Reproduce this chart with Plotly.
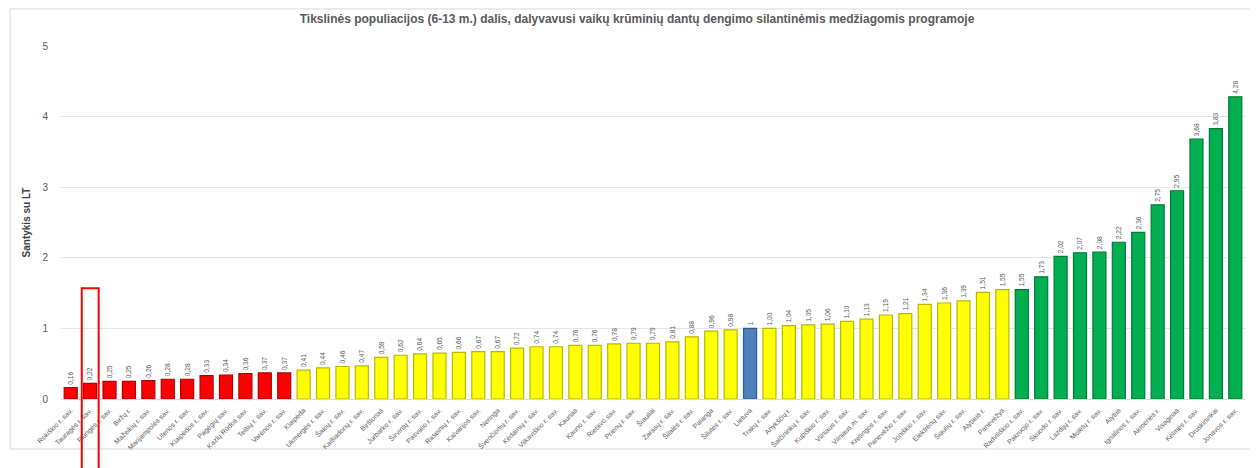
import plotly.graph_objects as go

categories = [
    "Rokiškio r. sav.", "Tauragės r. sav.", "Plungės r. sav.", "Biržų r.", "Mažeikių r. sav.",
    "Marijampolės sav.", "Utenos r. sav.", "Klaipėdos r. sav.", "Pagėgių sav.", "Kazlų Rūdos sav.",
    "Telšių r. sav.", "Varėnos r. sav.", "Klaipėda", "Ukmergės r. sav.", "Šakių r. sav.",
    "Kaišiadorių r. sav.", "Birštonas", "Jurbarko r. sav.", "Širvintų r. sav.", "Pasvalio r. sav.",
    "Raseinių r. sav.", "Kalvarijos sav.", "Neringa", "Švenčionių r. sav.", "Kėdainių r. sav.",
    "Vilkaviškio r. sav.", "Kaunas", "Kauno r. sav.", "Rietavo sav.", "Prienų r. sav.",
    "Šiauliai", "Zarasų r. sav.", "Šilalės r. sav.", "Palanga", "Šilutės r. sav.",
    "Lietuva", "Trakų r. sav.", "Anykščių r.", "Šalčininkų r. sav.", "Kupiškio r. sav.",
    "Vilniaus r. sav.", "Vilniaus m. sav.", "Kretingos r. sav.", "Panevėžio r. sav.", "Joniškio r. sav.",
    "Elektrėnų sav.", "Šiaulių r. sav.", "Alytaus r.", "Panevėžys", "Radviliškio r. sav.",
    "Pakruojo r. sav.", "Skuodo r. sav.", "Lazdijų r. sav.", "Molėtų r. sav.", "Alytus",
    "Ignalinos r. sav.", "Akmenės r.", "Visaginas", "Kelmės r. sav.", "Druskininkai",
    "Jonavos r. sav.",
]

values = [
    0.16, 0.22, 0.25, 0.25, 0.26,
    0.28, 0.28, 0.33, 0.34, 0.36,
    0.37, 0.37, 0.41, 0.44, 0.46,
    0.47, 0.59, 0.62, 0.64, 0.65,
    0.66, 0.67, 0.67, 0.72, 0.74,
    0.74, 0.76, 0.76, 0.78, 0.79,
    0.79, 0.81, 0.88, 0.96, 0.98,
    1.00, 1.00, 1.04, 1.05, 1.06,
    1.10, 1.13, 1.19, 1.21, 1.34,
    1.36, 1.39, 1.51, 1.55, 1.55,
    1.73, 2.02, 2.07, 2.08, 2.22,
    2.36, 2.75, 2.95, 3.68, 3.83,
    4.28,
]

groups = (["red"] * 12 + ["yellow"] * 23 + ["blue"] + ["yellow"] * 13 + ["green"] * 12)

value_labels = ["1" if c == "Lietuva" else f"{v:.2f}".replace(".", ",") for c, v in zip(categories, values)]

fill = {"red": "#FF0000", "yellow": "#FFFF00", "blue": "#4F81BD", "green": "#00B050"}
edge = {"red": "#B00000", "yellow": "#B8B800", "blue": "#2E5A8A", "green": "#007A38"}

fig = go.Figure(go.Bar(
    x=categories,
    y=values,
    marker=dict(color=[fill[g] for g in groups],
                line=dict(color=[edge[g] for g in groups], width=1.2)),
    text=value_labels,
    textposition="outside",
    textangle=-90,
    textfont=dict(size=7, color="#595959", family="Liberation Sans, Arial"),
    cliponaxis=False,
))

fig.update_layout(
    width=1258, height=468,
    paper_bgcolor="white", plot_bgcolor="white",
    margin=dict(l=53, r=21, t=38, b=77),
    bargap=0.33,
    showlegend=False,
    font=dict(family="Liberation Sans, Arial", color="#595959"),
    title=dict(
        text="<b>Tikslinės populiacijos (6-13 m.) dalis, dalyvavusi vaikų krūminių dantų dengimo silantinėmis medžiagomis programoje</b>",
        x=0.5, xanchor="center", y=0.976, yanchor="middle",
        font=dict(size=12, color="#595959", family="Liberation Sans, Arial"),
    ),
    xaxis=dict(
        tickangle=-45, tickfont=dict(size=7, color="#595959"),
        showgrid=False, showline=False, ticks="",
        ticklabelstandoff=5,
    ),
    yaxis=dict(
        range=[0, 5], dtick=1, showgrid=True, gridcolor="#E6E6E6",
        zeroline=True, zerolinecolor="#D9D9D9", zerolinewidth=1,
        tickfont=dict(size=10, color="#595959"), ticks="",
        ticklabelstandoff=12,
        title=dict(text="<b>Santykis su LT</b>", font=dict(size=10, color="#404040"), standoff=9),
    ),
    shapes=[
        dict(type="rect", xref="paper", yref="paper", x0=-0.043, x1=1.015, y0=-0.1416, y1=1.105,
             line=dict(color="#D9D9D9", width=1), fillcolor="rgba(0,0,0,0)", layer="below"),
        dict(type="rect", xref="x", yref="paper", x0=0.57, x1=1.44, y0=-0.23, y1=0.314,
             line=dict(color="#FF0000", width=2), fillcolor="rgba(0,0,0,0)"),
    ],
)

fig.write_html("out.html")
